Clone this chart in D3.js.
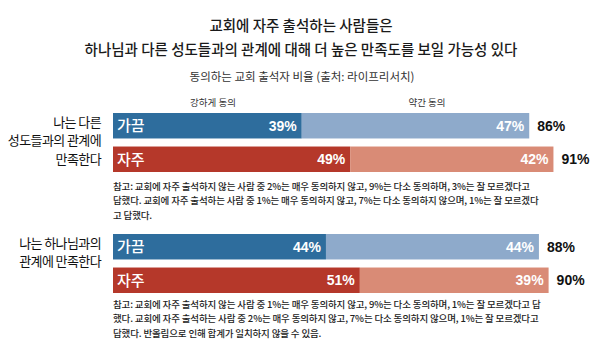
<!DOCTYPE html>
<html><head><meta charset="utf-8">
<script src="https://cdn.jsdelivr.net/npm/d3@7"></script>
<style>
html,body{margin:0;padding:0;background:#fff;}
svg{display:block;font-family:"Noto Sans CJK KR","Noto Sans",sans-serif;}
</style></head>
<body>
<svg id="c" width="600" height="346"></svg>
<script>
const titleLines = ["교회에 자주 출석하는 사람들은", "하나님과 다른 성도들과의 관계에 대해 더 높은 만족도를 보일 가능성 있다"];
const subtitle = "동의하는 교회 출석자 비율 (출처: 라이프리서치)";
const legendLabels = ["강하게 동의", "약간 동의"];
const categoryLines = [["나는 다른", "성도들과의 관계에", "만족한다"], ["나는 하나님과의", "관계에 만족한다"]];
const frequency = ["가끔", "자주"];
const strongly = [[39, 49], [44, 51]];
const somewhat = [[47, 42], [44, 39]];
const totals = [[86, 91], [88, 90]];
const notes = [
  ["참고: 교회에 자주 출석하지 않는 사람 중 2%는 매우 동의하지 않고, 9%는 다소 동의하며, 3%는 잘 모르겠다고",
   "답했다. 교회에 자주 출석하는 사람 중 1%는 매우 동의하지 않고, 7%는 다소 동의하지 않으며, 1%는 잘 모르겠다",
   "고 답했다."],
  ["참고: 교회에 자주 출석하지 않는 사람 중 1%는 매우 동의하지 않고, 9%는 다소 동의하며, 1%는 잘 모르겠다고 답",
   "했다. 교회에 자주 출석하는 사람 중 2%는 매우 동의하지 않고, 7%는 다소 동의하지 않으며, 1%는 잘 모르겠다고",
   "답했다. 반올림으로 인해 합계가 일치하지 않을 수 있음."]
];

const svg = d3.select("#c");
const x = d3.scaleLinear().domain([0, 100]).range([113, 597]);
const groupTop = [113, 234];
const noteTop = [190, 308];
const yIn = d3.scaleBand().domain(frequency).range([0, 59]).paddingInner(0.24);
const colors = {
  "가끔": ["#2e6d9d", "#8eaacb"],
  "자주": ["#b5382a", "#d98b76"]
};
const pctFont = '"Liberation Sans", Arial, sans-serif';

// title
svg.selectAll(".title").data(titleLines).join("text")
  .attr("x", 301).attr("y", (d, i) => 31 + i * 24)
  .attr("text-anchor", "middle").attr("font-size", 14.5).attr("font-weight", 500)
  .attr("fill", "#1a1a1a").text(d => d);

svg.append("text").attr("x", 302).attr("y", 81).attr("text-anchor", "middle")
  .attr("font-size", 11.5).attr("fill", "#333").text(subtitle);

// legend
svg.selectAll(".leg").data(legendLabels).join("text")
  .attr("x", (d, i) => [213, 427][i]).attr("y", 106)
  .attr("text-anchor", "middle").attr("font-size", 9.5).attr("fill", "#333").text(d => d);

categoryLines.forEach((lines, gi) => {
  const g = svg.append("g").attr("transform", `translate(0,${groupTop[gi]})`);
  g.selectAll(".cat").data(lines).join("text")
    .attr("x", 101).attr("y", (d, i) => 9 + i * 18.5 + 4.5)
    .attr("text-anchor", "end").attr("font-size", 13).attr("fill", "#111")
    .attr("letter-spacing", -0.6)
    .text(d => d);

  frequency.forEach((f, fi) => {
    const y0 = yIn(f), h = yIn.bandwidth();
    const s = strongly[gi][fi], w = somewhat[gi][fi];
    g.append("rect").attr("x", x(0)).attr("y", y0).attr("width", x(s) - x(0)).attr("height", h).attr("fill", colors[f][0]);
    g.append("rect").attr("x", x(s)).attr("y", y0).attr("width", x(s + w) - x(s)).attr("height", h).attr("fill", colors[f][1]);
    g.append("text").attr("x", x(0) + 4).attr("y", y0 + h / 2 + 5.5)
      .attr("font-size", 15).attr("font-weight", 500).attr("fill", "#fff").text(f);
    g.append("text").attr("x", x(s) - 5).attr("y", y0 + h / 2 + 5)
      .attr("text-anchor", "end").attr("font-family", pctFont).attr("font-weight", 700)
      .attr("font-size", 14).attr("fill", "#fff").text(s + "%");
    g.append("text").attr("x", x(s + w) - 5).attr("y", y0 + h / 2 + 5)
      .attr("text-anchor", "end").attr("font-family", pctFont).attr("font-weight", 700)
      .attr("font-size", 14).attr("fill", "#fff").text(w + "%");
    g.append("text").attr("x", x(s + w) + 8).attr("y", y0 + h / 2 + 5)
      .attr("font-family", pctFont).attr("font-weight", 700)
      .attr("font-size", 14).attr("fill", "#111").text(totals[gi][fi] + "%");
  });

  svg.append("g").selectAll("text").data(notes[gi]).join("text")
    .attr("x", 113).attr("y", (d, i) => noteTop[gi] + i * 14.3)
    .attr("font-size", 9.5).attr("font-weight", 500).attr("fill", "#222")
    .attr("letter-spacing", -0.15)
    .text(d => d);
});
</script>
</body></html>
